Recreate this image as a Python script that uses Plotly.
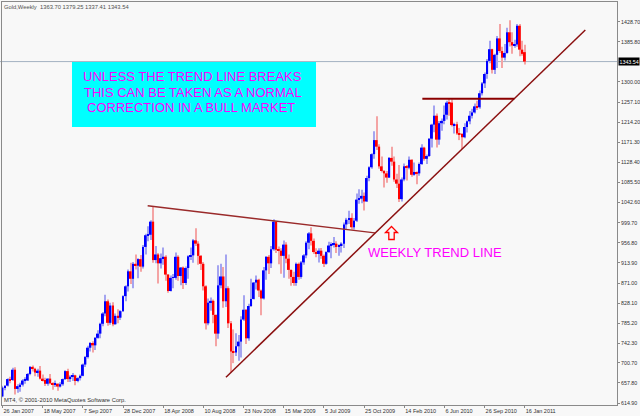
import plotly.graph_objects as go

# ---------------- data (weekly bars, bar 0 = week of 22 Jan 2007) ----------------
OPEN = [629, 648, 652, 666, 664, 686, 645, 651, 654, 663, 663, 677, 692, 688, 680, 684, 667, 664, 656, 667,
        657, 655, 656, 650, 655, 666, 683, 666, 671, 674, 662, 668, 673, 697, 713, 733, 743, 738, 754, 763,
        784, 806, 832, 786, 823, 783, 801, 797, 811, 843, 864, 896, 880, 912, 908, 922, 906, 948, 973, 974,
        1002, 920, 932, 913, 924, 927, 889, 854, 882, 882, 927, 886, 904, 871, 903, 928, 930, 962, 955, 929,
        912, 864, 785, 829, 833, 803, 763, 866, 885, 832, 860, 785, 725, 723, 736, 746, 793, 814, 753, 822,
        837, 872, 878, 855, 838, 898, 927, 913, 943, 1002, 942, 940, 929, 953, 923, 899, 884, 871, 912, 884,
        915, 930, 957, 977, 961, 937, 933, 940, 929, 912, 937, 951, 953, 955, 948, 952, 955, 996, 1006, 1010,
        990, 1004, 1049, 1051, 1057, 1045, 1095, 1118, 1146, 1176, 1162, 1120, 1110, 1105, 1096, 1138, 1130, 1092, 1083, 1050,
        1092, 1120, 1117, 1134, 1102, 1108, 1105, 1125, 1160, 1136, 1142, 1179, 1209, 1228, 1177, 1212, 1217, 1230, 1256, 1256,
        1208, 1210, 1190, 1189, 1182, 1204, 1216, 1228, 1235, 1248, 1246, 1276, 1297, 1317, 1345, 1370, 1326, 1358, 1393, 1366,
        1352, 1362, 1406, 1385, 1378, 1380, 1420, 1369, 1363.70]
HIGH = [652, 653, 668, 671, 690, 691, 655, 658, 666, 670, 679, 694, 695, 690, 688, 694, 676, 669, 668, 677,
        659, 663, 657, 659, 667, 685, 688, 674, 679, 675, 670, 676, 699, 715, 737, 745, 747, 756, 770, 786,
        809, 846, 836, 829, 830, 806, 815, 813, 845, 866, 900, 914, 916, 932, 924, 931, 952, 976, 992, 1005,
        1033, 950, 935, 934, 947, 930, 890, 887, 890, 936, 930, 905, 906, 906, 930, 947, 965, 988, 960, 931,
        916, 866, 838, 840, 836, 804, 909, 912, 905, 932, 864, 790, 772, 764, 760, 800, 845, 815, 827, 880,
        873, 887, 880, 857, 905, 928, 931, 950, 1007, 1003, 949, 945, 962, 958, 932, 900, 895, 915, 915, 918,
        933, 960, 980, 990, 966, 945, 945, 946, 932, 939, 959, 958, 969, 960, 954, 958, 1000, 1010, 1025, 1020,
        1010, 1062, 1071, 1070, 1064, 1100, 1120, 1148, 1195, 1227, 1167, 1141, 1112, 1110, 1140, 1162, 1141, 1104, 1123, 1096,
        1126, 1123, 1141, 1135, 1128, 1109, 1128, 1167, 1162, 1145, 1180, 1211, 1250, 1233, 1217, 1222, 1250, 1260, 1265, 1263,
        1213, 1215, 1202, 1191, 1212, 1218, 1238, 1243, 1254, 1260, 1282, 1300, 1320, 1349, 1388, 1371, 1360, 1398, 1424, 1375,
        1381, 1416, 1432, 1406, 1390, 1424, 1424, 1388, 1379.25]
LOW = [627, 642, 650, 657, 662, 633, 637, 639, 650, 656, 662, 674, 682, 672, 671, 665, 661, 651, 652, 655,
       643, 649, 641, 648, 652, 664, 660, 660, 662, 653, 659, 663, 672, 692, 710, 725, 723, 728, 752, 753,
       779, 800, 780, 782, 779, 782, 785, 792, 809, 832, 853, 869, 860, 900, 881, 895, 902, 932, 960, 963,
       914, 913, 870, 902, 910, 876, 850, 853, 860, 878, 876, 866, 858, 867, 880, 920, 914, 950, 910, 899,
       855, 772, 781, 812, 785, 736, 752, 860, 818, 820, 775, 681, 700, 715, 705, 712, 790, 741, 748, 820,
       836, 857, 841, 802, 836, 878, 890, 903, 940, 935, 911, 891, 882, 913, 880, 865, 865, 865, 878, 880,
       910, 924, 943, 951, 933, 926, 915, 923, 905, 910, 935, 924, 947, 935, 929, 936, 946, 986, 997, 985,
       985, 1001, 1040, 1041, 1026, 1044, 1088, 1115, 1136, 1155, 1115, 1107, 1075, 1085, 1095, 1121, 1087, 1074, 1044, 1045,
       1088, 1090, 1114, 1098, 1100, 1082, 1100, 1123, 1132, 1125, 1140, 1160, 1193, 1160, 1166, 1196, 1210, 1220, 1228, 1205,
       1190, 1187, 1176, 1157, 1180, 1192, 1210, 1222, 1233, 1240, 1243, 1271, 1287, 1307, 1340, 1318, 1317, 1330, 1362, 1330,
       1346, 1360, 1376, 1360, 1373, 1375, 1355, 1356, 1337.41]
CLOSE = [648, 652, 666, 664, 686, 645, 651, 654, 663, 664, 677, 692, 688, 680, 684, 667, 664, 656, 667, 657,
         655, 656, 650, 655, 666, 683, 666, 671, 674, 662, 668, 673, 697, 713, 733, 743, 738, 754, 763, 784,
         806, 832, 786, 823, 783, 801, 797, 811, 843, 864, 896, 880, 912, 908, 922, 906, 948, 973, 974, 1002,
         920, 932, 913, 924, 927, 889, 854, 882, 883, 927, 886, 904, 871, 903, 928, 930, 962, 955, 929, 912,
         864, 785, 829, 833, 803, 763, 866, 885, 832, 860, 785, 725, 723, 736, 746, 793, 814, 753, 822, 837,
         872, 878, 855, 838, 898, 927, 913, 943, 1002, 942, 940, 929, 953, 923, 899, 884, 871, 912, 884, 915,
         930, 957, 977, 961, 937, 933, 940, 929, 912, 937, 951, 953, 955, 948, 952, 955, 996, 1006, 1010, 990,
         1004, 1049, 1051, 1057, 1045, 1095, 1118, 1146, 1176, 1162, 1120, 1110, 1105, 1096, 1138, 1130, 1092, 1083, 1050, 1092,
         1120, 1117, 1134, 1102, 1108, 1105, 1125, 1160, 1136, 1142, 1179, 1209, 1228, 1177, 1212, 1217, 1230, 1256, 1255, 1208,
         1210, 1190, 1189, 1182, 1204, 1216, 1228, 1235, 1248, 1246, 1276, 1297, 1317, 1345, 1370, 1326, 1358, 1393, 1366, 1352,
         1362, 1406, 1385, 1378, 1380, 1420, 1369, 1360, 1343.54]

BAR_INDEX = list(range(len(CLOSE)))

X_TICK_INDEX = [0, 16, 32, 48, 64, 80, 96, 112, 128, 144, 160, 176, 192, 208]
X_TICK_LABELS = ["26 Jan 2007", "18 May 2007", "7 Sep 2007", "28 Dec 2007", "18 Apr 2008",
                 "10 Aug 2008", "23 Nov 2008", "15 Mar 2009", "5 Jul 2009", "25 Oct 2009",
                 "14 Feb 2010", "6 Jun 2010", "26 Sep 2010", "16 Jan 2011"]
Y_TICKS = [1428.70, 1385.80, 1300.00, 1257.10, 1214.20, 1171.30, 1128.40, 1085.50, 1042.60,
           999.70, 956.80, 913.90, 871.00, 828.10, 785.20, 742.30, 700.70, 657.80, 614.90]

CURRENT_PRICE = 1343.54

# hand-drawn chart objects (bar index, price)
RESIST_LINE_X = [57.8, 148.3]
RESIST_LINE_Y = [1036, 978]
SUPPORT_LINE_X = [89.0, 232.1]
SUPPORT_LINE_Y = [670, 1411]
NECK_LINE_X = [167.2, 203.8]
NECK_LINE_Y = [1264, 1264]

TITLE_TEXT = "Gold,Weekly  1363.70 1379.25 1337.41 1343.54"
BOX_LINES = ["UNLESS THE TREND LINE BREAKS", "THIS CAN BE TAKEN AS A NORMAL", "CORRECTION IN A BULL MARKET"]
LABEL_TEXT = "WEEKLY TREND LINE"
COPYRIGHT = "MT4, \u00a9 2001-2010 MetaQuotes Software Corp."

# ---------------- layout helpers ----------------
W, H = 640, 416
ML, MR, MT, MB = 2, 23, 2, 11
BG = "#F8F8F8"


def PX(px):
    return (px - ML) / (W - ML - MR)


def PY(py):
    return (H - MB - py) / (H - MT - MB)


up = [c >= o for o, c in zip(OPEN, CLOSE)]
body_base = [min(o, c) for o, c in zip(OPEN, CLOSE)]
body_h = [max(abs(c - o), 1.2) for o, c in zip(OPEN, CLOSE)]
wick_h = [h - l for h, l in zip(HIGH, LOW)]

fig = go.Figure()
fig.add_trace(go.Bar(
    x=BAR_INDEX, y=wick_h, base=LOW, width=0.42,
    marker=dict(color=["#A4A4F0" if u else "#F4A4A4" for u in up], line=dict(width=0)),
    hoverinfo="skip", showlegend=False))
fig.add_trace(go.Bar(
    x=BAR_INDEX, y=body_h, base=body_base, width=0.78,
    marker=dict(color=["#0000FF" if u else "#FF0000" for u in up], line=dict(width=0)),
    hoverinfo="skip", showlegend=False))

# trend lines
fig.add_trace(go.Scatter(x=RESIST_LINE_X, y=RESIST_LINE_Y, mode="lines",
                         line=dict(color="#9A2A2A", width=1.5), hoverinfo="skip", showlegend=False))
fig.add_trace(go.Scatter(x=SUPPORT_LINE_X, y=SUPPORT_LINE_Y, mode="lines",
                         line=dict(color="#8B1010", width=1.5), hoverinfo="skip", showlegend=False))
fig.add_trace(go.Scatter(x=NECK_LINE_X, y=NECK_LINE_Y, mode="lines",
                         line=dict(color="#8B0000", width=2), hoverinfo="skip", showlegend=False))

shapes = [
    # current price line
    dict(type="line", xref="paper", yref="y", x0=PX(0), x1=1, y0=CURRENT_PRICE, y1=CURRENT_PRICE,
         line=dict(color="#A3B1C2", width=1), layer="below"),
    # cyan comment box
    dict(type="rect", xref="paper", yref="paper", x0=PX(72), x1=PX(316), y0=PY(127), y1=PY(62),
         fillcolor="#00FFFF", line=dict(width=0), layer="above"),
]
# red up arrow outline
pts = [(391.5, 226.5), (397.5, 232.5), (394.2, 232.5), (394.2, 239.5), (388.8, 239.5), (388.8, 232.5), (385.5, 232.5)]
path = "M " + " L ".join(f"{PX(a):.5f},{PY(b):.5f}" for a, b in pts) + " Z"
shapes.append(dict(type="path", xref="paper", yref="paper", path=path,
                   line=dict(color="#FF0000", width=1.3), fillcolor=BG, layer="above"))

annotations = [
    dict(text=TITLE_TEXT, xref="paper", yref="paper", x=PX(3), y=PY(7), xanchor="left", yanchor="middle",
         showarrow=False, borderpad=0, font=dict(family="Liberation Sans", size=5.8, color="#505050")),
    dict(text=COPYRIGHT, xref="paper", yref="paper", x=PX(3), y=PY(400), xanchor="left", yanchor="middle",
         showarrow=False, borderpad=0, font=dict(family="Liberation Sans", size=5.8, color="#303030")),
    dict(text=LABEL_TEXT, xref="paper", yref="paper", x=PX(367), y=PY(252.5), xanchor="left", yanchor="middle",
         showarrow=False, borderpad=0, font=dict(family="Liberation Sans", size=13, color="#FF00FF")),
    dict(text=f"{CURRENT_PRICE:.2f}", xref="paper", yref="y", x=1, y=CURRENT_PRICE, xanchor="left",
         yanchor="middle", xshift=0.5, showarrow=False, bgcolor="#000000", borderpad=0.5,
         font=dict(family="Liberation Sans", size=5.3, color="#FFFFFF")),
]
for i, (line, cx, cy) in enumerate(zip(BOX_LINES, [192.5, 193, 191], [77, 92, 107])):
    annotations.append(dict(text=line, xref="paper", yref="paper", x=PX(cx), y=PY(cy),
                            xanchor="center", yanchor="middle", showarrow=False, borderpad=0,
                            font=dict(family="Liberation Sans", size=13, color="#FF00FF")))

n_vis = (W - ML - MR) / 2.511
x_min = -0.2
fig.update_layout(
    width=W, height=H,
    margin=dict(l=ML, r=MR, t=MT, b=MB, pad=0, autoexpand=False),
    paper_bgcolor=BG, plot_bgcolor=BG,
    barmode="overlay",
    shapes=shapes, annotations=annotations,
    xaxis=dict(range=[x_min, x_min + n_vis], showgrid=False, zeroline=False, automargin=False,
               showline=True, mirror=True, linecolor="#8A8A8A", linewidth=1,
               tickmode="array", tickvals=X_TICK_INDEX, ticktext=X_TICK_LABELS, tickangle=0,
               ticks="outside", ticklen=2, tickcolor="#8A8A8A", ticklabelposition="outside right",
               tickfont=dict(family="Liberation Sans", size=5.5, color="#303030"), fixedrange=True),
    yaxis=dict(range=[610.7, 1470.7], side="right", showgrid=False, zeroline=False, automargin=False,
               showline=True, mirror=True, linecolor="#8A8A8A", linewidth=1,
               tickmode="array", tickvals=Y_TICKS, ticktext=[f"{v:.2f}" for v in Y_TICKS], tickangle=0,
               ticks="outside", ticklen=2, tickcolor="#8A8A8A",
               tickfont=dict(family="Liberation Sans", size=5.3, color="#303030"), fixedrange=True),
    showlegend=False,
)

fig.write_html("out.html", config={"displayModeBar": False},
               post_script="document.body.style.margin='0';document.body.style.background='#F8F8F8';")
